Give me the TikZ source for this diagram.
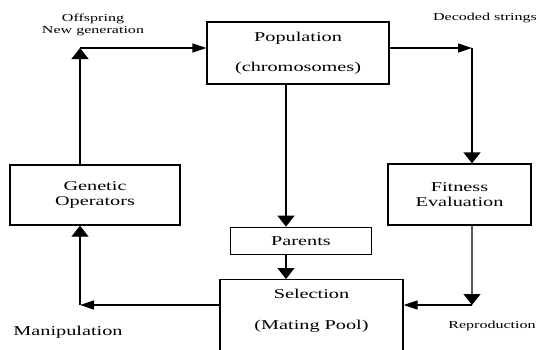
\documentclass[tikz,border=0pt]{standalone}
\usepackage{fontspec}
\setmainfont{Liberation Serif}[FakeStretch=1.5]
\usetikzlibrary{arrows.meta, positioning}

\begin{document}
\begin{tikzpicture}[
    x=1pt, y=-1pt,
    box/.style={rectangle, draw, line width=1.3pt, inner sep=0pt, align=center, font=\fontsize{13.5}{15.5}\selectfont},
    lbl/.style={align=center, font=\fontsize{10.7}{12}\selectfont},
    harr/.style={line width=1.3pt, -{Triangle[length=14pt,width=9pt]}},
    varr/.style={line width=1.3pt, -{Triangle[length=11pt,width=17pt]}}
]
\fill[white] (0,0) rectangle (540,349);
\useasboundingbox (0,0) rectangle (540,349);

\node[box, minimum width=182pt, minimum height=62pt] (pop) at (298,53) {Population\\[15pt](chromosomes)};
\node[box, minimum width=143pt, minimum height=61pt] (fit) at (459.5,194.5) {Fitness\\Evaluation};
\node[box, minimum width=170pt, minimum height=60pt] (gen) at (95,195) {Genetic\\Operators};
\node[box, minimum width=141pt, minimum height=27pt, below=142pt of pop, xshift=3pt] (par) {Parents};
\node[box, minimum width=183pt, anchor=north, text height=50pt, text depth=45pt] (sel) at (311.5,279) {Selection\\[16pt](Mating Pool)};

\coordinate (dec) at (472,48);
\coordinate (rep) at (472,305);
\coordinate (man) at (80,305);
\coordinate (off) at (80,48);
\coordinate (pv) at (286,0);

\draw[harr] (pop.east |- dec) -- (dec);
\draw[varr] (dec) -- (dec |- fit.north);
\draw[varr, black!65, -{Triangle[length=11pt,width=17pt,black]}] (dec |- fit.south) -- (rep);
\draw[harr] (rep) -- (rep -| sel.east);
\draw[harr] (sel.west |- man) -- (man);
\draw[varr] (man) -- (man |- gen.south);
\draw[varr] (man |- gen.north) -- (off);
\draw[harr] (off) -- (off -| pop.west);
\draw[varr] (pop.south -| pv) -- (par.north -| pv);
\draw[varr] (par.south -| pv) -- (sel.north -| pv);

% labels
\node[lbl] (offtxt) at (93,25) {Offspring\\New generation};
\node[lbl, anchor=base] (dectxt) at (485,20) {Decoded strings};
\node[anchor=base, font=\fontsize{13.5}{15.5}\selectfont] (mantxt) at (68,335) {Manipulation};
\node[lbl, anchor=base] (reptxt) at (492,328) {Reproduction};
\end{tikzpicture}
\end{document}
